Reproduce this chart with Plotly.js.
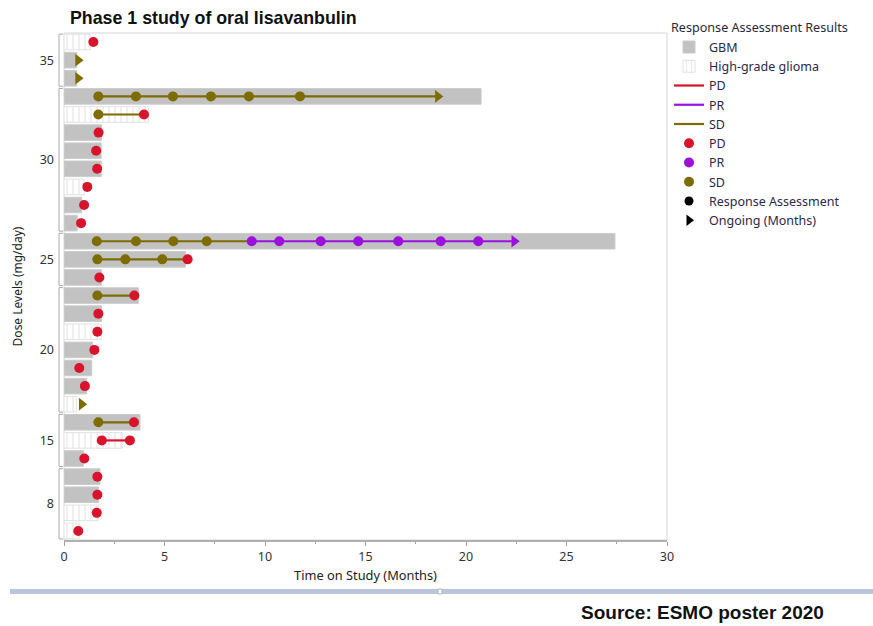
<!DOCTYPE html>
<html>
<head>
<meta charset="utf-8">
<script src="https://cdn.plot.ly/plotly-3.0.1.min.js"></script>
<style>html,body{margin:0;padding:0;background:#fff;}#chart{width:873px;height:626px;}</style>
</head>
<body>
<div id="chart"></div>
<script>
// ---- Data (rows numbered top to bottom) ----
const rowIds = [1,2,3,4,5,6,7,8,9,10,11,12,13,14,15,16,17,18,19,20,21,22,23,24,25,26,27,28];
const tumorType = ['HGG','GBM','GBM','GBM','HGG','GBM','GBM','GBM','HGG','GBM','GBM','GBM','GBM','GBM',
                   'GBM','GBM','HGG','GBM','GBM','GBM','HGG','GBM','HGG','GBM','GBM','GBM','HGG','HGG'];
const timeOnStudy = [1.3,0.63,0.63,20.75,4.2,1.87,1.85,1.85,1.0,0.88,0.66,27.41,6.04,1.87,
                     3.7,1.87,1.87,1.43,1.38,1.13,0.63,3.78,2.9,0.96,1.79,1.71,1.71,0.75];

// dose level groups
const groupLabels = ['35','30','25','20','15','8'];
const groupStart  = [1,4,12,15,22,25];
const groupEnd    = [3,11,14,21,24,28];

// response line segments
const segRow   = [4,5,12,12,13,15,22,23];
const segStart = [1.71,1.71,1.63,9.1,1.66,1.66,1.71,1.88];
const segEnd   = [18.6,3.98,9.1,22.4,6.15,3.5,3.48,3.28];
const segResp  = ['SD','SD','SD','PR','SD','SD','SD','PD'];

// response assessment points
const sdRow = [4,4,4,4,4,4,5,12,12,12,12,13,13,13,15,22];
const sdX   = [1.71,3.58,5.42,7.31,9.2,11.74,1.71,1.63,3.58,5.44,7.1,1.66,3.05,4.89,1.66,1.71];
const prRow = [12,12,12,12,12,12,12];
const prX   = [9.34,10.71,12.77,14.64,16.63,18.74,20.61];
const pdRow = [1,5,6,7,8,9,10,11,13,14,15,16,17,18,19,20,22,23,23,24,25,26,27,28];
const pdX   = [1.46,3.98,1.72,1.6,1.65,1.16,1.0,0.85,6.15,1.76,3.5,1.71,1.66,1.51,0.76,1.04,3.48,1.88,3.28,1.01,1.66,1.66,1.63,0.71];

// ongoing
const ongRow  = [2,3,4,12,21];
const ongX    = [0.7,0.7,18.6,22.4,0.88];
const ongResp = ['SD','SD','SD','PR','SD'];

// ---- Styles ----
const colors = {PD:'#d7142b', PR:'#9b10dc', SD:'#7d6d00'};
const FONT = 'Noto Sans, Open Sans, sans-serif';

function pick(arr, cond){ const o=[]; arr.forEach((v,i)=>{ if(cond(i)) o.push(v); }); return o; }

const traces = [];
traces.push({
  type:'bar', orientation:'h', name:'GBM',
  y: pick(rowIds, i=>tumorType[i]==='GBM'),
  x: pick(timeOnStudy, i=>tumorType[i]==='GBM'),
  width:0.86,
  marker:{color:'#c2c2c2', line:{color:'#cbcbcb', width:1}},
  hoverinfo:'skip'
});
traces.push({
  type:'bar', orientation:'h', name:'High-grade glioma',
  y: pick(rowIds, i=>tumorType[i]==='HGG'),
  x: pick(timeOnStudy, i=>tumorType[i]==='HGG'),
  width:0.86,
  marker:{color:'#ffffff', line:{color:'#e2e2e2', width:1},
          pattern:{shape:'|', fgcolor:'#dcdcdc', bgcolor:'#ffffff', size:6, solidity:0.15}},
  hoverinfo:'skip'
});
['PD','PR','SD'].forEach(r=>{
  const xs=[], ys=[];
  segRow.forEach((row,i)=>{ if(segResp[i]===r){ xs.push(segStart[i], segEnd[i], null); ys.push(row,row,null);} });
  traces.push({type:'scatter', mode:'lines', name:r, x: xs.length?xs:[null], y: ys.length?ys:[null],
    line:{color:colors[r], width:2.2}, hoverinfo:'skip'});
});
[['PD',pdX,pdRow],['PR',prX,prRow],['SD',sdX,sdRow]].forEach(([r,xs,ys])=>{
  traces.push({type:'scatter', mode:'markers', name:r, x:xs, y:ys,
    marker:{color:colors[r], size:10, symbol:'circle'}, hoverinfo:'skip'});
});
traces.push({type:'scatter', mode:'markers', name:'Response Assessment', x:[null], y:[null],
  marker:{color:'#000', size:9, symbol:'circle'}});
traces.push({type:'scatter', mode:'markers', name:'Ongoing (Months)', x:[null], y:[null],
  marker:{color:'#000', size:10, symbol:'triangle-right'}});
traces.push({type:'scatter', mode:'markers', showlegend:false, x:ongX, y:ongRow,
  marker:{color:ongResp.map(r=>colors[r]), size:11, symbol:'triangle-right'}, hoverinfo:'skip'});

// plot geometry helpers (px -> paper)
const L=64, R=667, T=33, B=540;
const px = v => (v-L)/(R-L);
const py = v => (B-v)/(B-T);

const shapes = [];
shapes.push({type:'rect', xref:'paper', yref:'paper', x0:0, x1:1, y0:0, y1:1,
  line:{color:'#d6d6d6', width:1}, layer:'below'});
groupStart.forEach((s,i)=>{
  const e = groupEnd[i];
  shapes.push({type:'path', xref:'paper', yref:'y',
    path:`M ${px(63)} ${s-0.44} L ${px(59)} ${s-0.44} L ${px(59)} ${e+0.44} L ${px(63)} ${e+0.44}`,
    line:{color:'#a8a8a8', width:1}});
});
shapes.push({type:'rect', xref:'paper', yref:'paper', x0:px(10), x1:px(873), y0:py(589), y1:py(594),
  fillcolor:'#bac6da', line:{width:0}});
shapes.push({type:'rect', xref:'paper', yref:'paper', x0:px(438), x1:px(442), y0:py(589), y1:py(594),
  fillcolor:'#ffffff', line:{color:'#9aa6b8', width:0.8}});

const tickVals = groupStart.map((s,i)=>(s+groupEnd[i])/2);

const layout = {
  width:873, height:626,
  margin:{l:L, r:873-R, t:T, b:626-B, pad:0},
  paper_bgcolor:'#fff', plot_bgcolor:'#fff',
  barmode:'overlay',
  showlegend:true,
  font:{family:FONT, size:12, color:'#2a2a3a'},
  title:{text:'<b>Phase 1 study of oral lisavanbulin</b>', x:70/873, xanchor:'left', xref:'container',
         y:1-18/626, yanchor:'middle', yref:'container',
         font:{family:'Liberation Sans, Arial, sans-serif', size:17.8, color:'#111'}},
  xaxis:{range:[0,30], dtick:5, tick0:0, ticks:'outside', ticklen:4, tickcolor:'#a0a0a0',
         minor:{dtick:2.5, ticks:'outside', ticklen:2, tickcolor:'#a0a0a0'},
         showline:true, linecolor:'#b0b0b0', linewidth:1.5, showgrid:false, zeroline:false,
         tickfont:{family:FONT, size:12.5, color:'#333'},
         title:{text:'Time on Study (Months)', standoff:7, font:{family:FONT, size:12.8, color:'#222'}},
         fixedrange:true},
  yaxis:{range:[28.5,0.5], tickmode:'array', tickvals:tickVals, ticktext:groupLabels,
         ticks:'', showline:false, showgrid:false, zeroline:false, ticklabelstandoff:9,
         tickfont:{family:FONT, size:12.5, color:'#333'},
         title:{text:'Dose Levels (mg/day)', standoff:14, font:{family:FONT, size:12, color:'#222'}},
         fixedrange:true},
  legend:{x:px(669), xanchor:'left', y:py(16), yanchor:'top', tracegroupgap:0,
          title:{text:'Response Assessment Results', font:{family:FONT, size:12.6, color:'#2a2a3a'}},
          font:{family:FONT, size:12.5, color:'#2a2a4a'}, itemwidth:30, bgcolor:'rgba(0,0,0,0)'},
  shapes:shapes,
  annotations:[{text:'<b>Source: ESMO poster 2020</b>', xref:'paper', yref:'paper',
    x:px(826), xanchor:'right', y:py(612), yanchor:'middle', showarrow:false,
    font:{family:'Liberation Sans, Arial, sans-serif', size:19, color:'#111'}}]
};

Plotly.newPlot('chart', traces, layout, {displayModeBar:false, staticPlot:true});
</script>
</body>
</html>
